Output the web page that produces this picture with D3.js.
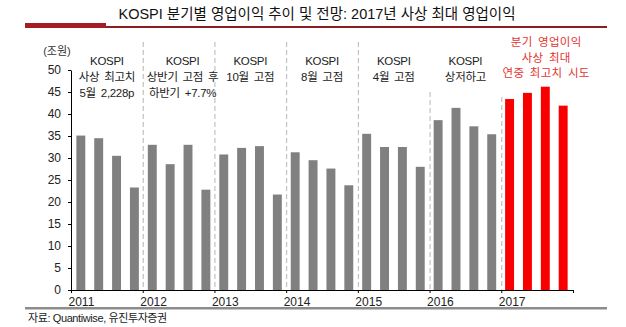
<!DOCTYPE html>
<html lang="ko">
<head>
<meta charset="utf-8">
<script src="https://cdn.jsdelivr.net/npm/d3@7"></script>
<style>
  html, body { margin: 0; padding: 0; background: #fff; }
  svg { display: block; }
  text { font-family: "Liberation Sans", Arial, "Noto Sans CJK KR", sans-serif; fill: #222; }
</style>
</head>
<body>
<svg id="chart" width="626" height="327"></svg>
<script>
// Quarterly operating profit of KOSPI-listed companies (trillion won)
const years = [2011, 2012, 2013, 2014, 2015, 2016, 2017];
const quarters = ["1Q", "2Q", "3Q", "4Q"];
const profit2011 = [35.1, 34.5, 30.5, 23.3];
const profit2012 = [33.0, 28.6, 33.0, 22.8];
const profit2013 = [30.8, 32.3, 32.7, 21.7];
const profit2014 = [31.3, 29.5, 27.6, 23.8];
const profit2015 = [35.5, 32.5, 32.5, 28.0];
const profit2016 = [38.6, 41.4, 37.2, 35.4];
const profit2017 = [43.4, 44.8, 46.2, 41.9];   // forecast year
const forecastYear = 2017;
const yTicks = [0, 5, 10, 15, 20, 25, 30, 35, 40, 45, 50];

// Notes on the KOSPI index for each year
const kospiNotes = [
  ["KOSPI", "사상 최고치", "5월 2,228p"],
  ["KOSPI", "상반기 고점 후", "하반기 +7.7%"],
  ["KOSPI", "10월 고점"],
  ["KOSPI", "8월 고점"],
  ["KOSPI", "4월 고점"],
  ["KOSPI", "상저하고"]
];
const forecastNote = ["분기 영업이익", "사상 최대", "연중 최고치 시도"];

const titleText = "KOSPI 분기별 영업이익 추이 및 전망: 2017년 사상 최대 영업이익";
const unitText = "(조원)";
const sourceText = "자료: Quantiwise, 유진투자증권";

const profitsByYear = [profit2011, profit2012, profit2013, profit2014, profit2015, profit2016, profit2017];
const rows = [];
years.forEach((yr, i) => quarters.forEach((q, j) => rows.push({ year: yr, q, key: yr + q, value: profitsByYear[i][j] })));

const svg = d3.select("#chart");

// ---- layout
const plotLeft = 71, plotRight = 573, plotTop = 70, plotBottom = 290;

const x = d3.scaleBand().domain(rows.map(d => d.key)).range([plotLeft, plotRight]).paddingInner(0.5).paddingOuter(0.3);
const xYear = d3.scaleLinear().domain([years[0], years[years.length - 1] + 1]).range([plotLeft, plotRight]);
const y = d3.scaleLinear().domain([0, 50]).range([plotBottom, plotTop]);

// ---- title & rule
svg.append("text")
  .attr("x", 317).attr("y", 14)
  .attr("text-anchor", "middle").attr("dominant-baseline", "central")
  .style("font-size", "14.5px").style("fill", "#111")
  .text(titleText);
svg.append("rect").attr("x", 25).attr("y", 26).attr("width", 582).attr("height", 2).attr("fill", "#8a1f22");
svg.append("rect").attr("x", 25).attr("y", 23).attr("width", 81).attr("height", 5).attr("fill", "#a51d24");

// ---- year separators (dashed)
const sepTop = { 2012: 42, 2013: 42, 2014: 42, 2015: 42, 2016: 92, 2017: 97 };
svg.append("g").selectAll("line")
  .data(years.slice(1))
  .join("line")
  .attr("x1", d => xYear(d) + 0.5).attr("x2", d => xYear(d) + 0.5)
  .attr("y1", d => sepTop[d]).attr("y2", plotBottom)
  .attr("stroke", "#b5b5b5").attr("stroke-width", 1)
  .attr("stroke-dasharray", "5,3");

// ---- bars
svg.append("g").selectAll("rect")
  .data(rows)
  .join("rect")
  .attr("x", d => x(d.key))
  .attr("width", x.bandwidth())
  .attr("y", d => y(d.value))
  .attr("height", d => y(0) - y(d.value))
  .attr("fill", d => d.year === forecastYear ? "#f80000" : "#808080");

// ---- axes
const yAxis = svg.append("g")
  .attr("transform", `translate(${plotLeft},0)`)
  .call(d3.axisLeft(y).tickValues(yTicks).tickSize(3).tickSizeOuter(0).tickPadding(7));
yAxis.select(".domain").attr("stroke", "#000");
yAxis.selectAll(".tick line").attr("stroke", "#000");
yAxis.selectAll(".tick text").style("font-size", "12px").style("fill", "#222")
  .style("font-family", "'Liberation Sans', Arial, sans-serif");

const xAxis = svg.append("g")
  .attr("transform", `translate(0,${plotBottom})`)
  .call(d3.axisBottom(xYear)
    .tickValues(years.concat([years[years.length - 1] + 1]))
    .tickFormat(d => years.includes(d) ? String(d) : "")
    .tickSize(3).tickSizeOuter(0).tickPadding(4));
xAxis.select(".domain").attr("stroke", "#000");
xAxis.selectAll(".tick line").attr("stroke", "#000");
xAxis.selectAll(".tick text")
  .attr("text-anchor", "start").attr("dx", -3)
  .style("font-size", "12px").style("fill", "#222")
  .style("font-family", "'Liberation Sans', Arial, sans-serif");

// unit label
svg.append("text")
  .attr("x", 57).attr("y", 51)
  .attr("text-anchor", "middle").attr("dominant-baseline", "central")
  .style("font-size", "11px").style("fill", "#333")
  .text(unitText);

// ---- KOSPI notes per year (the 2012 note sits a little right of centre)
const notes = svg.append("g");
kospiNotes.forEach((lines, i) => {
  const cx = xYear(years[i] + 0.5) + (i === 1 ? 4 : 0);
  lines.forEach((t, k) => {
    notes.append("text")
      .attr("x", cx).attr("y", 61 + k * 16)
      .attr("text-anchor", "middle").attr("dominant-baseline", "central")
      .style("font-size", "11.5px").style("fill", "#222")
      .style("letter-spacing", "-0.3px").style("word-spacing", "2px")
      .text(t);
  });
});

// forecast note in red
forecastNote.forEach((t, k) => {
  notes.append("text")
    .attr("x", xYear(forecastYear + 0.5) + 9).attr("y", 42 + k * 15.5)
    .attr("text-anchor", "middle").attr("dominant-baseline", "central")
    .style("font-size", "11.5px").style("fill", "#e5332e")
    .style("letter-spacing", "0.3px").style("word-spacing", "2px")
    .text(t);
});

// ---- footer
svg.append("rect").attr("x", 25).attr("y", 307).attr("width", 582).attr("height", 2.5).attr("fill", "#8c8c8c");
svg.append("text")
  .attr("x", 28).attr("y", 318)
  .attr("dominant-baseline", "central")
  .style("font-size", "11px").style("fill", "#222").style("letter-spacing", "-0.4px")
  .text(sourceText);
</script>
</body>
</html>
